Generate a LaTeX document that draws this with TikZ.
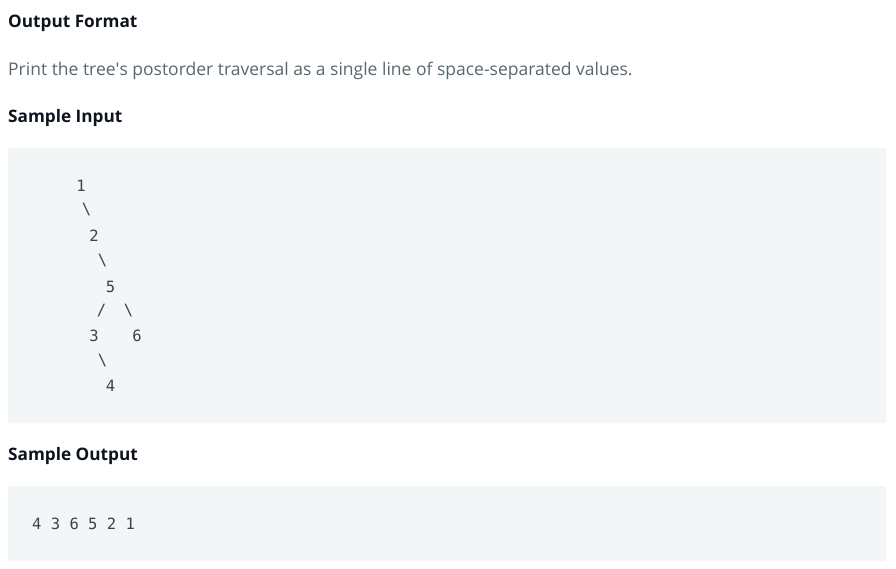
\documentclass[tikz,border=0pt]{standalone}
\usepackage{fontspec}
\setmainfont{Open Sans}
\setmonofont{DejaVu Sans Mono}
\definecolor{headcol}{HTML}{0E141E}
\definecolor{bodycol}{HTML}{576871}
\definecolor{codecol}{HTML}{39424E}
\definecolor{boxcol}{HTML}{F3F6F7}
\tikzset{
  heading/.style={anchor=base west, inner sep=0pt, text=headcol,
    font=\fontsize{17.2}{20}\selectfont\bfseries},
  bodytext/.style={anchor=base west, inner sep=0pt, text=bodycol,
    font=\fontsize{17.5}{20}\selectfont},
  codebox/.style={fill=boxcol, draw=none, rounded corners=2pt},
  digit/.style={anchor=base, inner sep=0pt, text=codecol,
    font=\fontsize{15.5}{18}\selectfont\ttfamily},
  slash/.style={anchor=center, inner sep=0pt, text=codecol,
    font=\fontsize{15.5}{18}\selectfont\ttfamily}
}

\begin{document}
\begin{tikzpicture}[x=1pt, y=-1pt]
			%%%%% START %%%%%
			
			\useasboundingbox[fill=white] (0, 0) rectangle (896, 568);
			
			\node[heading] (fmt) at (8, 27) {Output Format};
			\node[bodytext] (desc) at (8, 75.5) {Print the tree\textquotesingle s postorder traversal as a single line of space-separated values.};
			\node[heading] (inhead) at (8, 122) {Sample Input};
			
			\draw[codebox] (8, 148) rectangle (886, 423);
			
			\node[digit] (n1) at (81, 191) {1};
			\node[slash] (e12) at (86.5, 210) {\textbackslash};
			\node[digit] (n2) at (94, 241) {2};
			\node[slash] (e25) at (102.5, 261) {\textbackslash};
			\node[digit] (n5) at (110.5, 292) {5};
			\node[slash] (e53) at (101.5, 310.5) {/};
			\node[slash] (e56) at (128.5, 310.5) {\textbackslash};
			\node[digit] (n3) at (94, 341) {3};
			\node[digit] (n6) at (137, 341) {6};
			\node[slash] (e34) at (102.5, 360.5) {\textbackslash};
			\node[digit] (n4) at (110.5, 391) {4};
			
			\node[heading] (outhead) at (8, 460) {Sample Output};
			
			\draw[codebox] (8, 486) rectangle (886, 561);
			\node[digit, anchor=base west] (res) at (32, 529) {4 3 6 5 2 1};
			
			%%%%% END %%%%%
\end{tikzpicture}
\end{document}
